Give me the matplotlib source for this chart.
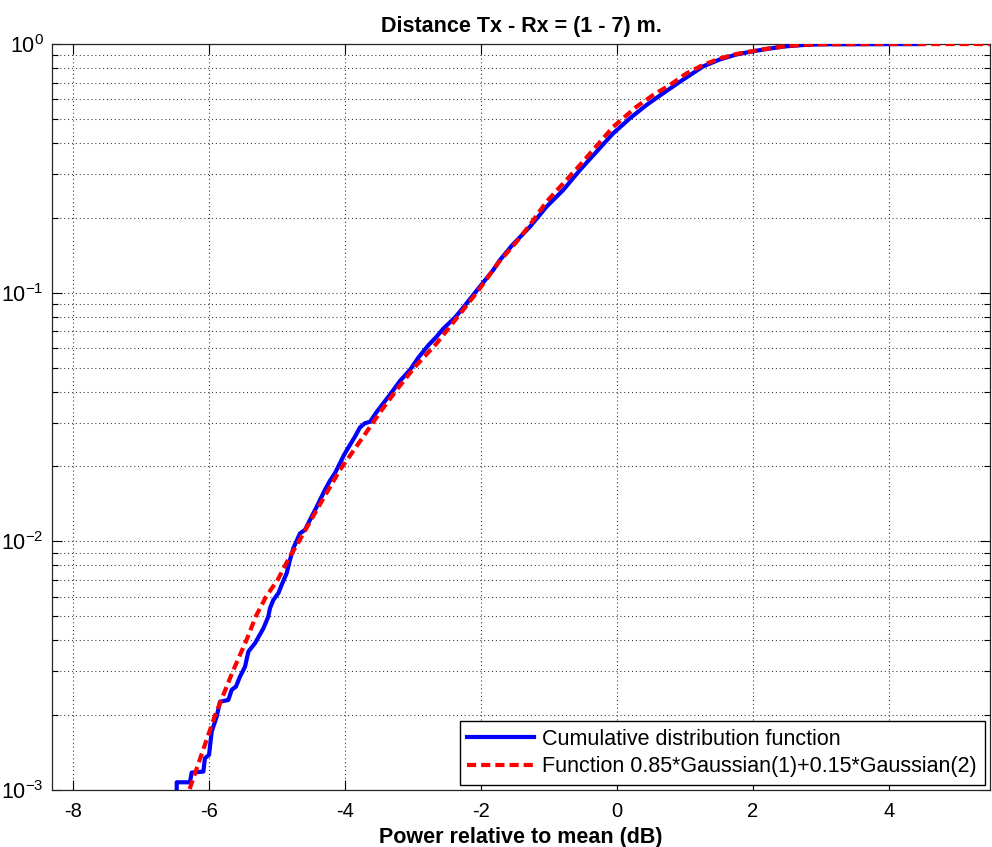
import numpy as np
import matplotlib
matplotlib.use("Agg")
import matplotlib.pyplot as plt
from matplotlib.ticker import LogLocator, FixedLocator

plt.rcParams['font.family'] = ['Liberation Sans', 'DejaVu Sans']
plt.rcParams['mathtext.default'] = 'regular'
plt.rcParams['axes.unicode_minus'] = False

# Empirical CDF (blue): x in dB, log10 of probability
cdf_x = [-6.475, -6.475, -6.28, -6.255, -6.083, -6.06, -6.0, -5.96, -5.887, -5.838,
         -5.716, -5.666, -5.603, -5.544, -5.47, -5.42, -5.324, -5.2, -5.128, -5.103,
         -5.054, -4.98, -4.931, -4.857, -4.809, -4.76, -4.662, -4.588, -4.515, -4.416,
         -4.294, -4.22, -4.147, -4.074, -4.015, -3.926, -3.853, -3.779, -3.706, -3.63,
         -3.534, -3.436, -3.338, -3.191, -3.044, -2.922, -2.775, -2.652, -2.554, -2.382,
         -2.26, -2.113, -1.966, -1.819, -1.721, -1.549, -1.402, -1.279, -1.034, -0.789,
         -0.544, -0.299, -0.054, 0.191, 0.437, 0.681, 0.926, 1.269, 1.515, 1.76,
         2.005, 2.25, 2.495, 2.74, 3.0, 4.5]
cdf_log10 = [-3.05, -2.969, -2.969, -2.930, -2.926, -2.872, -2.859, -2.765, -2.705, -2.645,
             -2.638, -2.597, -2.584, -2.544, -2.504, -2.443, -2.41, -2.35, -2.303, -2.269,
             -2.236, -2.209, -2.175, -2.128, -2.075, -2.028, -1.968, -1.954, -1.914, -1.861,
             -1.793, -1.756, -1.726, -1.686, -1.653, -1.612, -1.579, -1.542, -1.525, -1.519,
             -1.48, -1.445, -1.41, -1.355, -1.311, -1.262, -1.212, -1.177, -1.145, -1.10,
             -1.06, -1.009, -0.959, -0.909, -0.869, -0.812, -0.770, -0.735, -0.654, -0.587,
             -0.507, -0.433, -0.359, -0.299, -0.245, -0.198, -0.152, -0.090, -0.062, -0.042,
             -0.029, -0.018, -0.009, -0.004, -0.001, 0.0]

# Fitted mixture (red dashed)
fit_x = [-6.35, -6.29, -5.91, -5.65, -5.45, -5.31, -5.16, -4.99, -4.80, -4.735,
         -4.416, -4.074, -3.73, -3.46, -3.24, -2.97, -2.652, -2.358, -2.04, -1.75,
         -1.475, -1.279, -1.034, -0.544, -0.054, 0.29, 0.534, 0.779, 1.025, 1.269,
         1.515, 1.76, 2.005, 2.25, 2.495, 2.74, 2.985, 4.0, 5.5]
fit_log10 = [-3.05, -3.0, -2.699, -2.523, -2.398, -2.301, -2.222, -2.155, -2.055, -2.028,
             -1.874, -1.713, -1.579, -1.472, -1.391, -1.298, -1.204, -1.103, -0.992, -0.882,
             -0.795, -0.727, -0.634, -0.487, -0.333, -0.252, -0.205, -0.165, -0.118, -0.084,
             -0.058, -0.040, -0.028, -0.017, -0.008, -0.003, -0.001, 0.0, 0.0]

x_ticks = [-8, -6, -4, -2, 0, 2, 4]
title = "Distance Tx - Rx = (1 - 7) m."
xlabel = "Power relative to mean (dB)"
legend_labels = ["Cumulative distribution function",
                 "Function 0.85*Gaussian(1)+0.15*Gaussian(2)"]

fig = plt.figure(figsize=(9.92, 8.47), dpi=100)
ax = fig.add_axes([0.0524, 0.0673, 0.998 - 0.0524, 0.948 - 0.0673])

ax.plot(cdf_x, np.power(10.0, cdf_log10), color=(0, 0, 1), lw=3.0,
        label=legend_labels[0], solid_joinstyle='round', zorder=3)
ax.plot(fit_x, np.power(10.0, fit_log10), color=(1, 0, 0), lw=3.0,
        linestyle=(0, (2.2, 1.2)), label=legend_labels[1], zorder=4)

ax.set_yscale('log')
ax.set_ylim(1e-3, 1)
ax.set_xlim(-8.31, 5.49)
ax.xaxis.set_major_locator(FixedLocator(x_ticks))
ax.yaxis.set_major_locator(LogLocator(base=10, numticks=10))
ax.yaxis.set_minor_locator(LogLocator(base=10, subs=np.arange(2, 10), numticks=20))
ax.tick_params(which='both', direction='in', top=True, right=True)
ax.tick_params(axis='x', which='major', labelsize=14.5, pad=9)
ax.tick_params(axis='y', which='major', labelsize=15.5, pad=6)
ax.tick_params(which='major', length=7, width=0.8)
ax.tick_params(which='minor', length=4, width=0.8, labelleft=False)

ax.grid(True, which='major', axis='both', linestyle=(0, (1, 2.5)), color='0.25', lw=0.8)
ax.grid(True, which='minor', axis='y', linestyle=(0, (1, 2.5)), color='0.25', lw=0.8)
for s in ax.spines.values():
    s.set_linewidth(0.9)
    s.set_color('0.15')

ax.set_title(title, fontsize=15.5, fontweight='bold', pad=9)
ax.set_xlabel(xlabel, fontsize=15.5, fontweight='bold', labelpad=4)

leg = ax.legend(loc='lower right', fontsize=15.5, frameon=True, fancybox=False,
                edgecolor='black', framealpha=1, handlelength=3.1,
                borderaxespad=0.25, labelspacing=0.3, borderpad=0.35, handletextpad=0.4)
leg.get_frame().set_linewidth(1.0)

fig.savefig("out.png", dpi=100)
